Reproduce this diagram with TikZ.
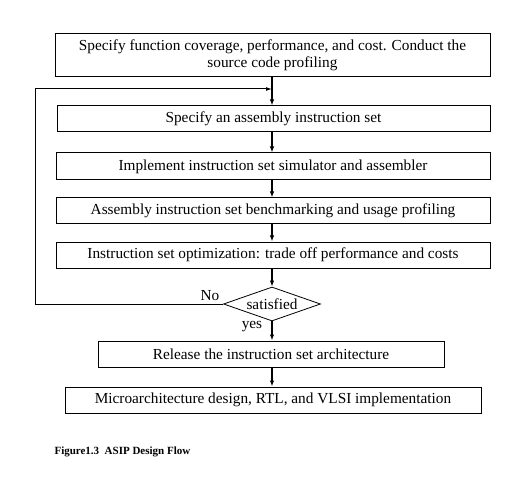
\documentclass[tikz,border=0pt]{standalone}
\usepackage{fontspec}
\setmainfont{Liberation Serif}
\usetikzlibrary{shapes.geometric,arrows.meta}
\begin{document}
\begin{tikzpicture}[x=1pt,y=-1pt,
  txt/.style={font=\fontsize{15.3}{17}\selectfont},
  stepbox/.style={draw,line width=1pt,inner sep=0pt,align=center,txt},
  arr/.style={line width=1.2pt,-{Latex[length=6pt,width=4.5pt]}},
  ln/.style={line width=1pt}]
\useasboundingbox (0,0) rectangle (522,481);
\node[stepbox,minimum width=435pt,minimum height=43pt] (b1) at (272.5,55) {Specify function coverage, performance, and cost. Conduct the\\source code profiling};
\node[stepbox,minimum width=433pt,minimum height=26pt] (b2) at (273.5,119) {Specify an assembly instruction set};
\node[stepbox,minimum width=434pt,minimum height=27pt] (b3) at (273,166.5) {Implement instruction set simulator and assembler};
\node[stepbox,minimum width=434pt,minimum height=26pt] (b4) at (273,211) {Assembly instruction set benchmarking and usage profiling};
\node[stepbox,minimum width=434pt,minimum height=26pt] (b5) at (273,255) {Instruction set optimization: trade off performance and costs};
\node[draw,diamond,aspect=2.85,minimum width=97pt,minimum height=34pt,line width=0.8pt,inner sep=0pt,txt] (d) at (272,304) {satisfied};
\node[stepbox,minimum width=346pt,minimum height=26pt] (b6) at (271,354) {Release the instruction set architecture};
\node[stepbox,minimum width=416pt,minimum height=26pt] (b7) at (273,400) {Microarchitecture design, RTL, and VLSI implementation};
\node[anchor=west,font=\bfseries\fontsize{11}{12}\selectfont] (cap) at (51,452) {Figure1.3\ \ ASIP Design Flow};
\coordinate (m) at (272,89);
\coordinate (c1) at (35,304);
\coordinate (c2) at (35,89);
\draw[arr] (b1.south -| m) -- (b2.north -| m);
\draw[arr] (b2.south -| m) -- (b3.north -| m);
\draw[arr] (b3.south -| m) -- (b4.north -| m);
\draw[arr] (b4.south -| m) -- (b5.north -| m);
\draw[arr] (b5.south -| m) -- (d.north);
\draw[arr] (d.south) -- (b6.north -| d.south);
\draw[arr] (b6.south -| d.south) -- (b7.north -| d.south);
\draw[ln,-{Latex[length=6pt,width=4pt]}] (d.west) -- (c1) -- (c2) -- (m);
\node[txt] (no) at (210,296) {No};
\node[txt] (yes) at (252,327) {yes};
\end{tikzpicture}
\end{document}
